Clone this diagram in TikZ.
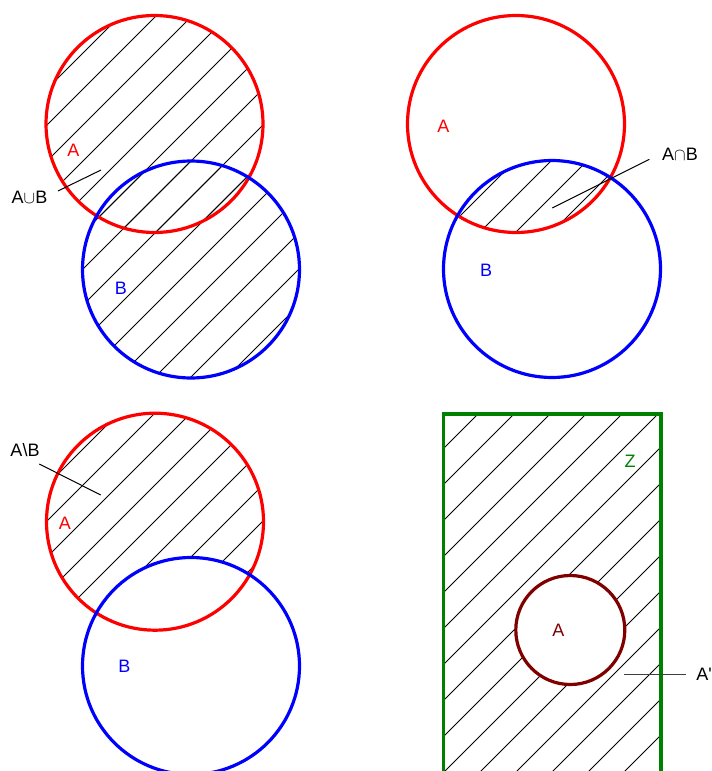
\documentclass[tikz,border=0pt]{standalone}
\usepackage{fontspec}
\setmainfont{Liberation Sans}
\definecolor{zgreen}{RGB}{0,128,0}
\definecolor{adark}{RGB}{128,0,0}
\newcommand\hatchlines{\foreach \c in {28,64,...,1504} {\draw[hatch] (\c,0) -- ({\c-900},900);}}
\begin{document}
\begin{tikzpicture}[x=1pt,y=-1pt,
  ca/.style={draw=red, line width=3.2pt},
  cb/.style={draw=blue, line width=3.2pt},
  hatch/.style={line width=0.9pt, black},
  lab/.style={font=\fontsize{18}{18}\selectfont, inner sep=0pt},
  leader/.style={line width=1pt, black}]
\useasboundingbox (0,0) rectangle (712,771);
% ---------- top left: union ----------
\coordinate (A1) at (154.5,124);
\coordinate (B1) at (191,269.5);
\begin{scope}\clip (A1) circle (108.5); \hatchlines \end{scope}
\begin{scope}\clip (B1) circle (108.5); \hatchlines \end{scope}
\draw[ca] (A1) circle (108.5);
\draw[cb] (B1) circle (108.5);
\node[lab, text=red] (lA1) at (73.5,150) {A};
\node[lab, text=blue] (lB1) at (121,288) {B};
\node[lab] (lU) at (29.5,197) {A$\cup$B};
\coordinate (u1) at (58,191);
\coordinate (u2) at (101,170);
\draw[leader] (u1) -- (u2);
% ---------- top right: intersection ----------
\coordinate (A2) at (516,124);
\coordinate (B2) at (552,269);
\begin{scope}\clip (A2) circle (108.5); \clip (B2) circle (108.5); \hatchlines \end{scope}
\draw[ca] (A2) circle (108.5);
\draw[cb] (B2) circle (108.5);
\node[lab, text=red] (lA2) at (443.3,126) {A};
\node[lab, text=blue] (lB2) at (486,270.5) {B};
\node[lab] (lI) at (680,154) {A$\cap$B};
\coordinate (i1) at (649.3,159.3);
\coordinate (i2) at (552.3,208);
\draw[leader] (i1) -- (i2);
% ---------- bottom left: difference ----------
\coordinate (A3) at (155,521.7);
\coordinate (B3) at (191,666);
\begin{scope}\clip (A3) circle (108.5); \hatchlines \fill[white] (B3) circle (108.5); \end{scope}
\draw[ca] (A3) circle (108.5);
\draw[cb] (B3) circle (108.5);
\node[lab] (lD) at (25,450) {A\textbackslash B};
\node[lab, text=red] (lA3) at (65,523) {A};
\node[lab, text=blue] (lB3) at (124.3,666.5) {B};
\coordinate (d1) at (39.3,464);
\coordinate (d2) at (100.7,495);
\draw[leader] (d1) -- (d2);
% ---------- bottom right: complement ----------
\coordinate (Z1) at (443.3,414);
\coordinate (Z2) at (661,800);
\coordinate (A4) at (570.3,630);
\begin{scope}\clip (Z1) rectangle (Z2); \hatchlines \fill[white] (A4) circle (54.5); \end{scope}
\draw[zgreen, line width=3.2pt] (Z1) rectangle (Z2);
\draw[adark, line width=3.2pt] (A4) circle (54.5);
\node[lab, text=zgreen] (lZ) at (630,461) {Z};
\node[lab, text=adark] (lA4) at (558.3,630.5) {A};
\node[lab] (lC) at (704,674) {A\textquotesingle};
\coordinate (c1) at (624.3,674.5);
\coordinate (c2) at (686,674.5);
\draw[leader, black!75] (c1) -- (c2);
\end{tikzpicture}
\end{document}
